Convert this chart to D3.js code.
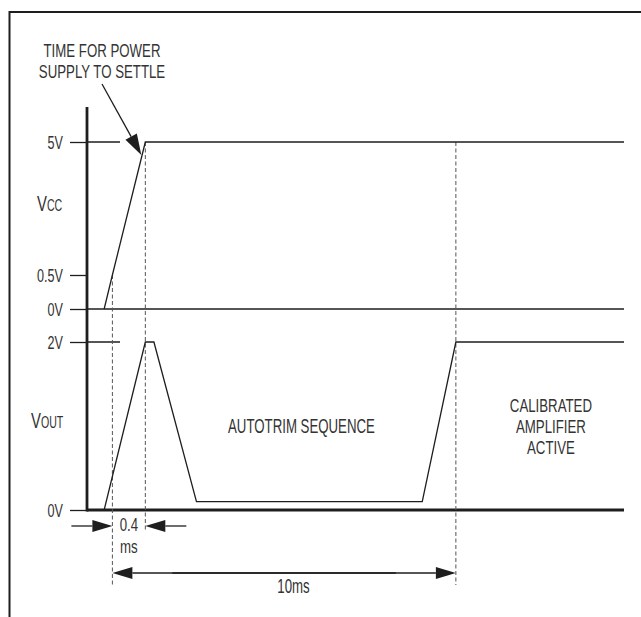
<!DOCTYPE html>
<html><head><meta charset="utf-8">
<script src="https://cdn.jsdelivr.net/npm/d3@7"></script>
<style>
html,body{margin:0;padding:0;background:#fff;}
svg text{font-family:"Liberation Sans Narrow","Liberation Sans",Arial,sans-serif;fill:#333;}
</style></head>
<body><svg id="c" width="641" height="617"></svg>
<script>
// ---- data (schematic timing diagram, time in ms, voltages in V) ----
const vccWave = [[0,0],[0.24,0.5],[1.2,5],[15.15,5]];
const voutWave = [[0,0],[1.2,2],[1.45,2],[2.69,0.1],[9.27,0.1],[10.25,2],[15.15,2]];
const vccTicks = [5, 0.5, 0];
const vccTickLabels = ["5V", "0.5V", "0V"];
const voutTicks = [2, 0];
const voutTickLabels = ["2V", "0V"];
const markerTimes = [0.24, 1.2, 10.25];
const annotationLines = ["TIME FOR POWER", "SUPPLY TO SETTLE"];
const autotrimLabel = "AUTOTRIM SEQUENCE";
const calibratedLines = ["CALIBRATED", "AMPLIFIER", "ACTIVE"];
const settleLabel = ["0.4", "ms"];
const sequenceLabel = "10ms";

const svg = d3.select("#c");
const ink = "#1e1e1e", dashInk = "#555";
const FS = 20, TFS = 19;

// scales
const x = d3.scaleLinear().domain([-0.5, 15.15]).range([87, 624]);
const yVcc = d3.scaleLinear().domain([0, 0.5, 5]).range([309, 275, 142]);
const yVout = d3.scaleLinear().domain([0, 2]).range([510, 342]);

// font width calibration so the condensed look is matched whatever font is found
const probe = svg.append("text").attr("font-size", FS).text(autotrimLabel);
const k = 147 / probe.node().getComputedTextLength();
probe.remove();

// size: font size; widths are kept as if drawn at FS
function txt(px, py, str, anchor, size) {
  size = size || FS;
  return svg.append("text")
    .attr("transform", `translate(${px},${py}) scale(${k * FS / size},1)`)
    .attr("text-anchor", anchor || "middle")
    .attr("font-size", size)
    .text(str);
}

// frame (top and left)
svg.append("path").attr("d", "M9.5,617 V12 H641")
  .attr("fill", "none").attr("stroke", ink).attr("stroke-width", 2);

// axes via d3
function styleAxis(g) {
  g.select(".domain").remove();
  g.selectAll(".tick line").attr("stroke", ink).attr("stroke-width", 1.3);
  g.selectAll(".tick text")
    .attr("x", null).attr("dy", null)
    .attr("transform", `translate(-24,6.6) scale(${k * FS / TFS * 0.95},1)`)
    .attr("font-size", TFS).attr("fill", "#333")
    .attr("font-family", null);
}
const axVcc = svg.append("g").attr("transform", `translate(${x(-0.5)},0)`)
  .call(d3.axisLeft(yVcc).tickValues(vccTicks).tickSizeInner(17).tickSizeOuter(0)
    .tickFormat((d, i) => vccTickLabels[i]));
styleAxis(axVcc);
const axVout = svg.append("g").attr("transform", `translate(${x(-0.5)},0)`)
  .call(d3.axisLeft(yVout).tickValues(voutTicks).tickSizeInner(17).tickSizeOuter(0)
    .tickFormat((d, i) => voutTickLabels[i]));
styleAxis(axVout);

// tick extensions to the right of the axis for top levels
[yVcc(5), yVout(2)].forEach(yy => {
  svg.append("line").attr("x1", x(-0.5)).attr("x2", x(-0.5) + 33)
    .attr("y1", yy).attr("y2", yy).attr("stroke", ink).attr("stroke-width", 1.3);
});
// Vcc zero line across
svg.append("line").attr("x1", x(-0.5)).attr("x2", x(15.15))
  .attr("y1", yVcc(0)).attr("y2", yVcc(0)).attr("stroke", ink).attr("stroke-width", 1.3);
// Vout zero baseline (thick)
svg.append("line").attr("x1", x(-0.5)).attr("x2", x(15.15))
  .attr("y1", yVout(0)).attr("y2", yVout(0)).attr("stroke", ink).attr("stroke-width", 2.8);
// vertical axis (thick)
svg.append("line").attr("x1", x(-0.5)).attr("x2", x(-0.5))
  .attr("y1", yVcc(6.18)).attr("y2", yVout(0) + 1.4).attr("stroke", ink).attr("stroke-width", 2.8);

// dashed markers
const markerBottoms = [587, 530, 585];
const markerTops = [yVcc(0.5), yVcc(5), yVcc(5)];
svg.selectAll("line.mk").data(markerTimes).join("line").attr("class", "mk")
  .attr("x1", d => x(d)).attr("x2", d => x(d))
  .attr("y1", (d, i) => markerTops[i]).attr("y2", (d, i) => markerBottoms[i])
  .attr("stroke", dashInk).attr("stroke-width", 1).attr("stroke-dasharray", "4,2.5");

// waveforms
const lineVcc = d3.line().x(d => x(d[0])).y(d => yVcc(d[1]));
const lineVout = d3.line().x(d => x(d[0])).y(d => yVout(d[1]));
svg.append("path").datum(vccWave).attr("d", lineVcc)
  .attr("fill", "none").attr("stroke", ink).attr("stroke-width", 1.3);
svg.append("path").datum(voutWave).attr("d", lineVout)
  .attr("fill", "none").attr("stroke", ink).attr("stroke-width", 1.3);

// arrows
function arrow(fx, fy, tx, ty, len, hw) {
  len = len || 20; hw = hw || 6;
  const dx = tx - fx, dy = ty - fy, L = Math.hypot(dx, dy);
  const ux = dx / L, uy = dy / L;
  const bx = tx - ux * len, by = ty - uy * len;
  svg.append("line").attr("x1", fx).attr("y1", fy).attr("x2", bx).attr("y2", by)
    .attr("stroke", ink).attr("stroke-width", 1.3);
  svg.append("path")
    .attr("d", `M${tx},${ty} L${bx - uy * hw},${by + ux * hw} L${bx + uy * hw},${by - ux * hw} Z`)
    .attr("fill", ink);
}
const yA = yVout(0) + 16;
arrow(x(markerTimes[0]) - 41, yA, x(markerTimes[0]), yA);
arrow(x(markerTimes[1]) + 41, yA, x(markerTimes[1]), yA);
const yB = yVout(0) + 63;
arrow(x(markerTimes[2]) - 60, yB, x(markerTimes[0]), yB);
arrow(x(markerTimes[0]) + 60, yB, x(markerTimes[2]), yB);
// annotation arrow to the Vcc ramp
const tipV = 4.56;
const tipT = 0.24 + (tipV - 0.5) / 4.5 * (1.2 - 0.24);
arrow(102, 84, x(tipT) - 0.8, yVcc(tipV), 21, 6.5);

// texts
txt(102, 56.5, annotationLines[0], "middle", 18.5);
txt(102, 77.5, annotationLines[1], "middle", 18.5);
const tv = svg.append("text").attr("transform", `translate(37,211) scale(${k},1)`).attr("text-anchor", "start");
tv.append("tspan").attr("font-size", 22.5).text("V");
tv.append("tspan").attr("font-size", 16).text("CC");
const to = svg.append("text").attr("transform", `translate(31,428) scale(${k},1)`).attr("text-anchor", "start");
to.append("tspan").attr("font-size", 22.5).text("V");
to.append("tspan").attr("font-size", 16).text("OUT");
const midA = (x(markerTimes[0]) + x(markerTimes[1])) / 2;
txt(midA, 531, settleLabel[0], "middle", 18.5);
txt(midA, 552.5, settleLabel[1], "middle", 18.5);
txt(293.5, 593, sequenceLabel);
txt(x(5.75), yVout(1) + 7, autotrimLabel);
calibratedLines.forEach((s, i) => txt(x(13.02), yVout(1) - 14 + i * 21, s, "middle", 18.5));
</script></body></html>
